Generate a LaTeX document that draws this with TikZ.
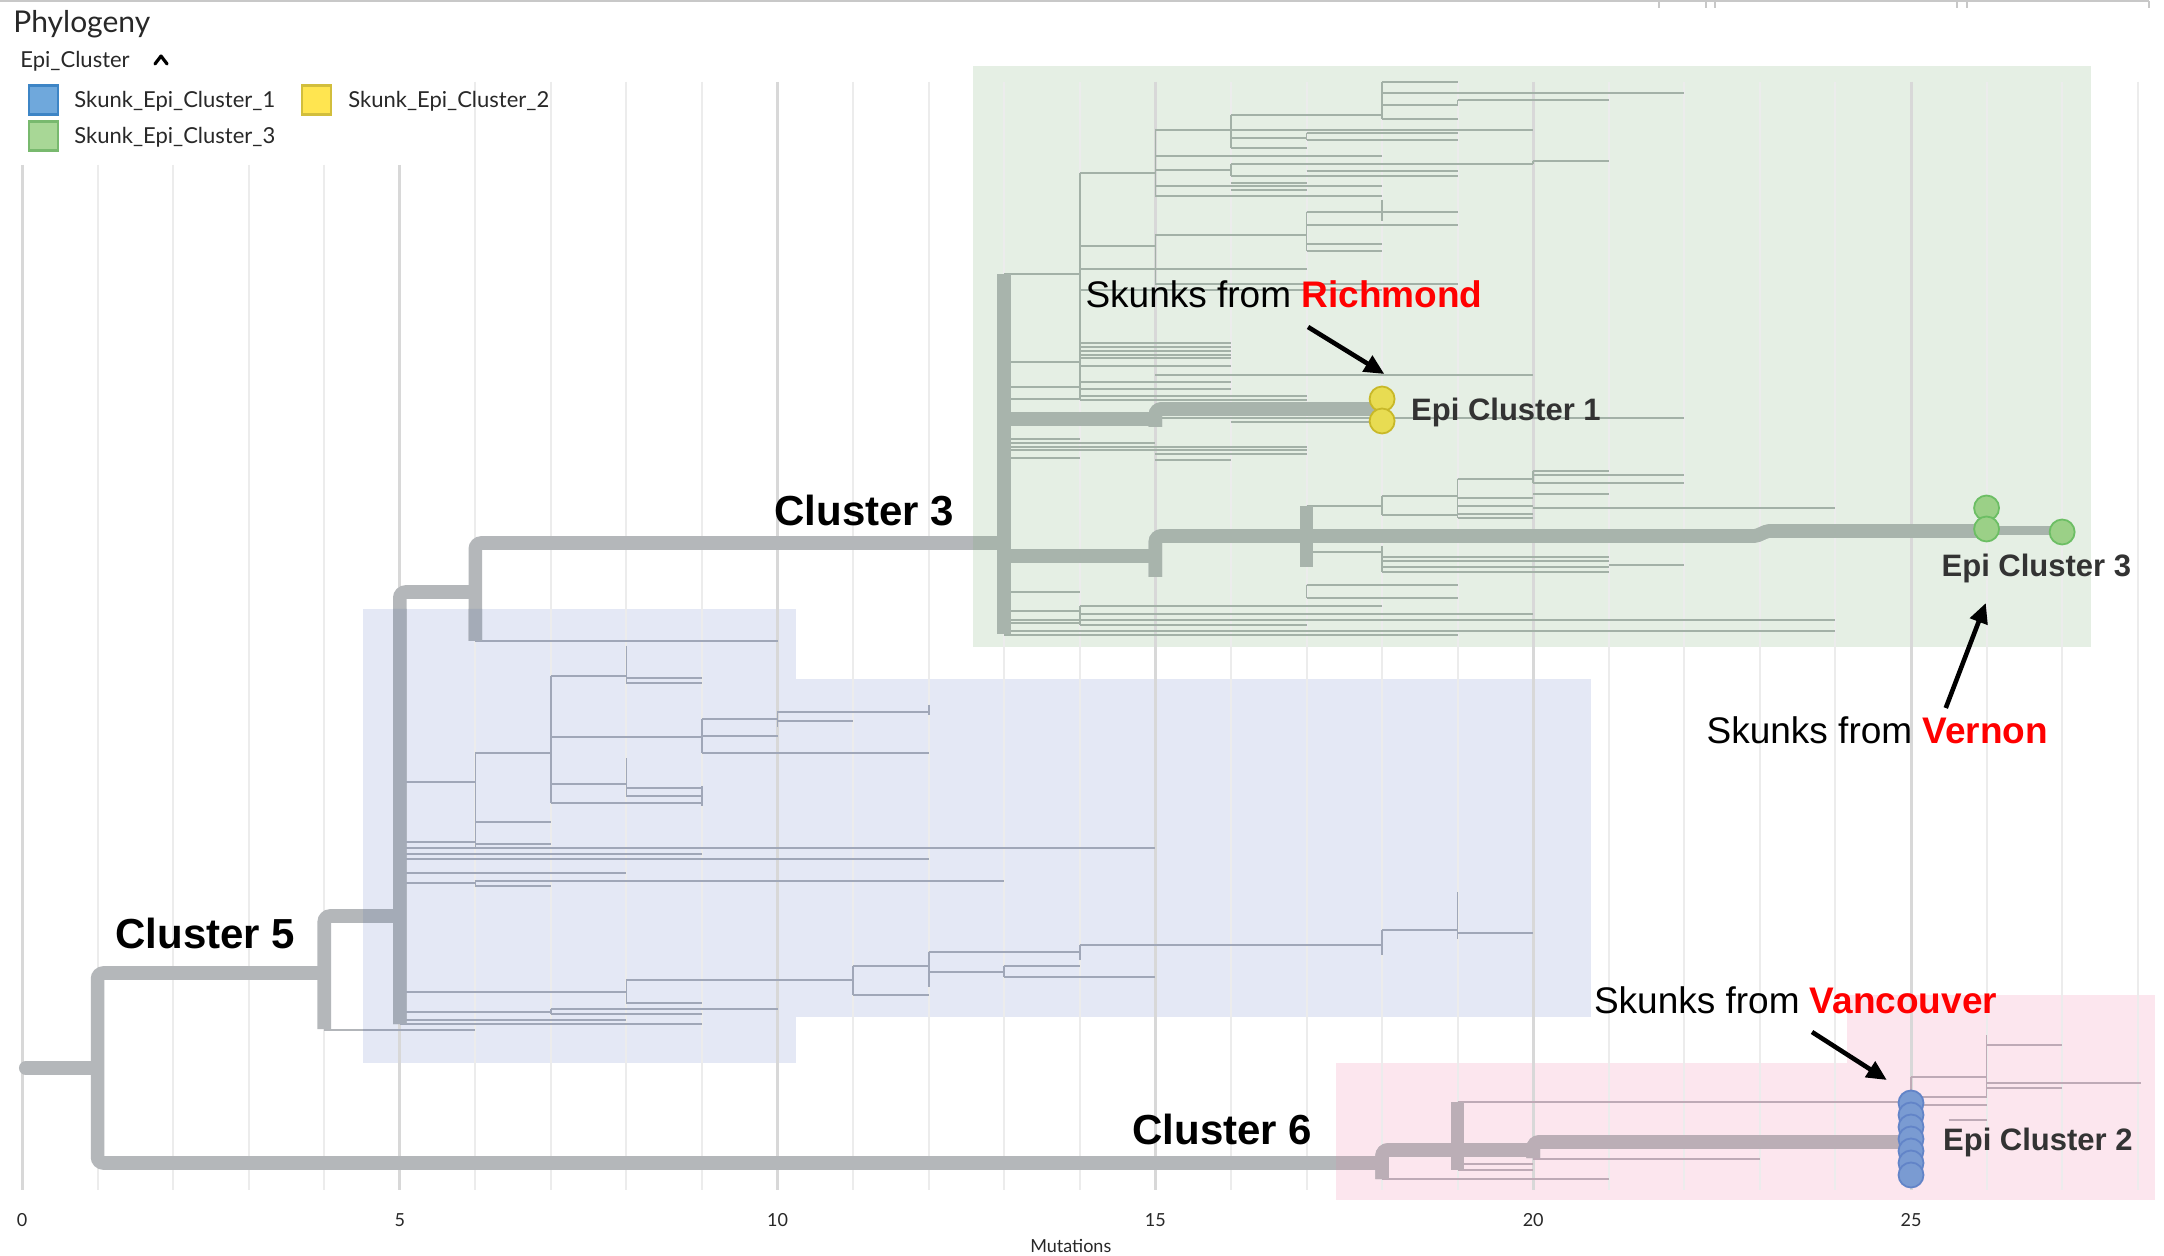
\documentclass[tikz,border=0pt]{standalone}
\usepackage{fontspec}
\setmainfont{Liberation Sans}
\newfontfamily\latofont{Lato}
\usetikzlibrary{arrows.meta}
\definecolor{gmin}{RGB}{236,236,236}
\definecolor{gmaj}{RGB}{216,216,216}
\definecolor{bggreen}{RGB}{229,239,228}
\definecolor{bgblue}{RGB}{228,232,245}
\definecolor{bgpink}{RGB}{252,230,238}
\definecolor{trgray}{RGB}{180,183,186}
\definecolor{trgreen}{RGB}{168,180,172}
\definecolor{trblue}{RGB}{164,171,183}
\definecolor{trpink}{RGB}{187,174,182}
\definecolor{thgray}{RGB}{178,181,185}
\definecolor{thgreen}{RGB}{163,177,167}
\definecolor{thblue}{RGB}{160,167,184}
\definecolor{thpink}{RGB}{190,170,182}
\definecolor{ylfill}{RGB}{232,220,82}
\definecolor{yldraw}{RGB}{200,184,40}
\definecolor{grfill}{RGB}{155,208,135}
\definecolor{grdraw}{RGB}{108,190,100}
\definecolor{blfill}{RGB}{122,155,210}
\definecolor{bldraw}{RGB}{98,132,200}
\definecolor{lgblue}{RGB}{111,168,220}
\definecolor{lgblueb}{RGB}{61,133,198}
\definecolor{lgyel}{RGB}{255,229,80}
\definecolor{lgyelb}{RGB}{210,190,60}
\definecolor{lggreen}{RGB}{168,215,150}
\definecolor{lggreenb}{RGB}{120,185,110}
\definecolor{labgray}{RGB}{51,51,51}
\definecolor{topline}{RGB}{200,200,200}
\definecolor{txtdark}{RGB}{40,40,40}

\tikzset{
  thickbr/.style={line width=6.8pt, rounded corners=3pt},
  thinbr/.style={line width=0.8pt},
  gridmin/.style={line width=1pt, draw=gmin},
  gridmaj/.style={line width=1.5pt, draw=gmaj},
  dotbase/.style={circle, inner sep=0pt, minimum size=12.5pt, line width=0.9pt},
  ydot/.style={dotbase, fill=ylfill, draw=yldraw},
  gdot/.style={dotbase, fill=grfill, draw=grdraw},
  bdot/.style={dotbase, fill=blfill, draw=bldraw},
  clab/.style={anchor=base west, inner sep=0pt, font=\fontsize{21}{25}\selectfont\bfseries, text=black},
  elab/.style={anchor=base west, inner sep=0pt, font=\fontsize{15.5}{18}\selectfont\bfseries, text=labgray},
  slab/.style={anchor=base west, inner sep=0pt, font=\fontsize{18.5}{22}\selectfont, text=black},
  arr/.style={line width=2.3pt, -{Triangle[length=10pt,width=9pt]}},
  legsq/.style={minimum size=14.5pt, inner sep=0pt, line width=1.3pt},
  legtxt/.style={anchor=base west, inner sep=0pt, font=\latofont\fontsize{11}{13}\selectfont, text=txtdark},
  axlab/.style={anchor=base, inner sep=0pt, font=\latofont\fontsize{9}{11}\selectfont, text=txtdark}
}

\newcommand\treepaths[2]{%
  % thin branches
  \foreach \a/\b/\y in {18/19/82, 18/22/93, 19/21/100, 18/19/105, 18/19/119, 16/18/115, 15/20/130, 17/19/133,
    16/17/138, 17/19/140, 16/17/148, 15/18/156, 20/21/161, 16/20/164, 15/16/170, 14/15/173, 17/19/171,
    16/19/176, 16/17/183, 15/18/186, 16/17/190, 15/18/196, 17/18/212, 18/19/212, 17/19/225,
    15/17/235, 17/18/244, 14/15/246, 17/18/251, 14/17/269, 13/14/274, 15/19/284, 14/18/290,
    14/16/343, 14/16/347, 14/16/351, 14/16/355, 14/16/358, 13/14/362, 14/16/366, 15/20/375, 14/16/382,
    13/14/387, 14/16/389, 14/17/396, 13/14/399, 14/17/400, 15/22/418, 16/18/422, 13/14/439, 13/15/443,
    13/17/447, 13/17/450, 15/17/454, 13/14/458, 15/16/460, 20/21/471, 20/22/475, 19/20/479, 20/22/483,
    20/21/494, 18/19/496, 19/20/498, 17/18/506, 19/20/506, 20/24/508, 19/20/514, 18/19/515, 19/20/518,
    17/18/552, 18/21/557, 18/21/561, 21/22/565, 18/21/567, 18/21/572, 17/19/585, 13/14/592, 17/19/598,
    14/18/606, 13/14/611, 14/20/614, 13/24/620, 13/14/623, 14/17/625, 13/24/631, 13/19/635,
    6/10/641, 7/8/676, 8/9/678, 8/9/683, 9/10/719, 10/12/712, 10/11/721, 9/10/736, 7/9/737, 9/12/753,
    6/7/753, 5/6/782, 7/8/784, 8/9/788, 8/9/796, 7/9/803, 6/7/822, 5/6/842, 6/7/844, 5/15/848, 5/9/854,
    5/12/859, 5/8/873, 6/13/881, 5/6/883, 6/7/886, 18/19/930, 19/20/933, 14/18/945, 12/14/952,
    13/14/966, 11/12/966, 12/13/972, 13/15/977, 8/11/980, 5/8/992, 11/12/995, 8/9/1003, 7/10/1009,
    5/7/1012, 7/9/1014, 5/8/1020, 5/9/1024, 4/6/1030,
    19/25/1102, 20/23/1159, 19/20/1164, 19/20/1170, 18/21/1179, 26/27/1045, 25/26/1077, 26/28.05/1083,
    26/27/1088, 25/26/1097, 25/26/1105, 25.5/26/1120}
    {\draw[thinbr,#2] (\a,\y) -- (\b,\y);}
  \foreach \x/\p/\q in {18/82/119, 19/100/105, 16/115/148, 15/129/196, 17/133/140, 16/164/176, 20/161/164,
    14/173/400, 17/212/251, 18/200/221, 15/235/284, 20/471/483, 19/479/518, 18/496/515, 18/546/572,
    17/585/598, 14/606/625, 8/646/683, 7/676/803, 9/719/753, 10/711/727, 12/705/715, 6/753/848, 6/881/886,
    8/758/797, 9/786/806, 14/945/960, 18/930/955, 19/892/939, 13/966/977, 12/952/987, 11/966/995,
    8/980/1003, 7/1009/1014, 26/1035/1098, 25/1077/1100}
    {\draw[thinbr,#2] (\x,\p) -- (\x,\q);}
  % thick branches
  \draw[thickbr,#1,line cap=round] (0.05,1068) -- (0.9,1068);
  \draw[thickbr,#1] (4,973) -- (1,973) -- (1,1163) -- (18,1163);
  \draw[thickbr,#1] (5,916) -- (4,916) -- (4,1029);
  \draw[thickbr,#1] (6,592) -- (5,592) -- (5,1024);
  \draw[thickbr,#1] (13,543) -- (6,543) -- (6,641);
  \draw[thickbr,#1] (13,274) -- (13,634);
  \draw[thickbr,#1] (13,419) -- (15,419);
  \draw[thickbr,#1] (18,409) -- (15,409) -- (15,427);
  \draw[thickbr,#1] (13,556) -- (15,556);
  \draw[thickbr,#1] (17,536) -- (15,536) -- (15,577);
  \draw[thickbr,#1] (17,506) -- (17,567);
  \draw[thickbr,#1,rounded corners=1pt] (17,536) -- (22.95,536) -- (23.1,531) -- (26,531);
  \draw[line width=4.5pt,#1] (26,531) -- (27,531);
  \draw[thickbr,#1] (20,1150) -- (18,1150) -- (18,1179);
  \draw[thickbr,#1] (19,1102) -- (19,1170);
  \draw[thickbr,#1] (25,1142) -- (20,1142) -- (20,1158);
}

\begin{document}
\begin{tikzpicture}[x=37.78pt, y=-0.5pt]
\useasboundingbox[fill=white] (-0.29117,0) rectangle (28.3483,1256);

% top border
\draw[line width=1pt, topline] (-0.2912,1.5) -- (28.15,1.5);
\foreach \t in {21.66,22.29,22.41,25.61,25.74,28.15}
  \draw[line width=1pt, topline] (\t,1) -- (\t,8);

% backgrounds
\fill[bggreen] (12.586,66) rectangle (27.383,647);
\fill[bgblue] (4.513,609) rectangle (10.244,1063);
\fill[bgblue] (10.244,679) rectangle (20.765,1017);
\fill[bgpink] (17.39,1063) rectangle (28.23,1200);
\fill[bgpink] (24.15,995) rectangle (28.23,1063);

% grid
\foreach \m in {0,...,28}{
  \pgfmathtruncatemacro\ys{\m<6 ? 165 : 82}
  \pgfmathtruncatemacro\maj{mod(\m,5)==0 ? 1 : 0}
  \ifnum\maj=1 \draw[gridmaj] (\m,\ys) -- (\m,1190);
  \else \draw[gridmin] (\m,\ys) -- (\m,1190); \fi
}

% tree
\treepaths{trgray}{thgray}
\begin{scope}
  \clip (12.586,66) rectangle (27.383,647);
  \treepaths{trgreen}{thgreen}
\end{scope}
\begin{scope}
  \clip (4.513,609) rectangle (10.244,1063) (10.2,679) rectangle (20.765,1017);
  \treepaths{trblue}{thblue}
\end{scope}
\begin{scope}
  \clip (17.39,1063) rectangle (28.23,1200) (24.15,995) rectangle (28.23,1066);
  \treepaths{trpink}{thpink}
\end{scope}

% tips
\node[ydot] (y1) at (18,399) {};
\node[ydot] (y2) at (18,421) {};
\node[gdot] (g1) at (26,508) {};
\node[gdot] (g2) at (26,529) {};
\node[gdot] (g3) at (27,532) {};
\foreach \i/\yy in {1/1103,2/1115,3/1127,4/1139,5/1151,6/1163,7/1175}
  \node[bdot] (b\i) at (25,\yy) {};

% labels
\node[clab] (c3) at (9.952,526) {Cluster 3};
\node[clab] (c5) at (1.23,948) {Cluster 5};
\node[clab] (c6) at (14.69,1144) {Cluster 6};
\node[elab] (e1) at (18.38,421) {Epi Cluster 1};
\node[elab] (e3) at (25.40,577) {Epi Cluster 3};
\node[elab] (e2) at (25.42,1150) {Epi Cluster 2};
\node[slab] (sr) at (14.07,308) {Skunks from \textcolor{red}{\bfseries Richmond}};
\node[slab] (sv) at (22.29,744) {Skunks from \textcolor{red}{\bfseries Vernon}};
\node[slab] (sc) at (20.80,1013) {Skunks from \textcolor{red}{\bfseries Vancouver}};

% arrows
\coordinate (ra) at (17.02,327);
\coordinate (rb) at (18.03,374);
\coordinate (va) at (25.46,708);
\coordinate (vb) at (25.99,603);
\coordinate (ca) at (23.69,1032);
\coordinate (cb) at (24.68,1080);
\draw[arr] (ra) -- (rb);
\draw[arr] (va) -- (vb);
\draw[arr] (ca) -- (cb);

% title and legend
\node[anchor=base west, inner sep=0pt, font=\latofont\fontsize{15}{18}\selectfont, text=txtdark] (title) at (-0.119,33) {Phylogeny};
\node[legtxt] (lgt) at (-0.026,68) {Epi\_Cluster};
\draw[line width=1.6pt, line cap=round, line join=round, black] (1.76,64) -- (1.84,56) -- (1.92,64);
\node[legsq, fill=lgblue, draw=lgblueb] (l1) at (0.2845,100) {};
\node[legsq, fill=lgyel, draw=lgyelb] (l2) at (3.898,100) {};
\node[legsq, fill=lggreen, draw=lggreenb] (l3) at (0.2845,136) {};
\node[legtxt] (t1) at (0.688,108) {Skunk\_Epi\_Cluster\_1};
\node[legtxt] (t2) at (4.314,108) {Skunk\_Epi\_Cluster\_2};
\node[legtxt] (t3) at (0.688,144) {Skunk\_Epi\_Cluster\_3};

% axis
\foreach \m in {0,5,10,15,20,25}
  \node[axlab] (ax\m) at (\m,1226) {\m};
\node[axlab] (axt) at (13.88,1252) {Mutations};
\end{tikzpicture}
\end{document}
